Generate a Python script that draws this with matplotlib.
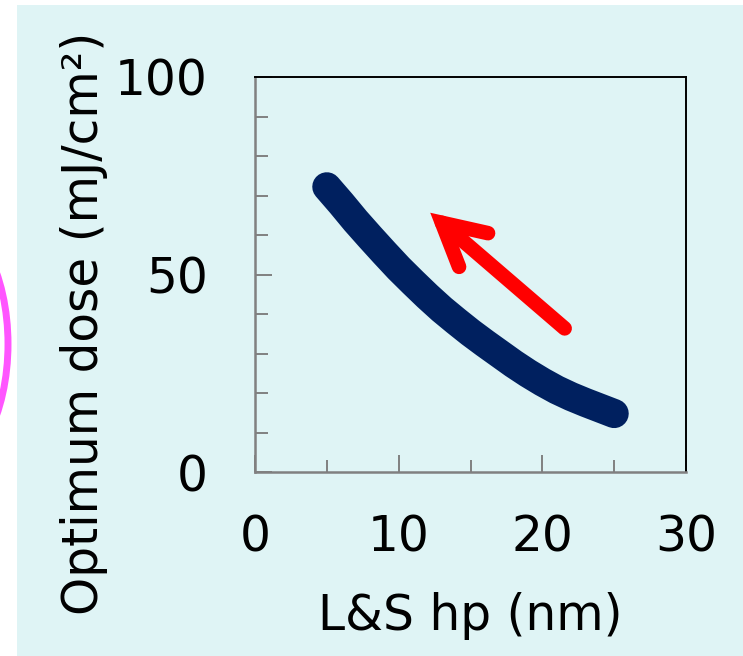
import numpy as np
import matplotlib
matplotlib.use('Agg')
from matplotlib import pyplot as plt
from matplotlib.patches import Rectangle, Ellipse, FancyArrowPatch
from matplotlib.ticker import MultipleLocator
plt.rcParams['font.family'] = ['DejaVu Sans']

# values
hp = [5, 6, 7, 8, 9, 10, 11, 12, 13, 14, 15,
      16, 17, 18, 19, 20, 21, 22, 23, 24, 25]                  # L&S hp (nm)
dose = [72.2, 68, 63.6, 59.5, 55.5, 51.6, 48, 44.5, 41.2, 38.2, 35.3,
        32.6, 30, 27.4, 25, 22.8, 20.8, 19.1, 17.6, 16.2, 14.8]  # optimum dose (mJ/cm2)
xticks = [0, 10, 20, 30]
yticks = [0, 50, 100]

W, H = 743, 656
fig = plt.figure(figsize=(W/100., H/100.), dpi=100)
fig.patch.set_facecolor('white')

# pale cyan panel and the magenta bit sticking in from the left
fig.patches.append(Rectangle((17./W, 0), 1 - 17./W, 1 - 5./H, transform=fig.transFigure,
                             fc='#dff4f5', ec='none', zorder=-2))
fig.patches.append(Ellipse((-62./W, 1 - 344./H), 140./W, 260./H, transform=fig.transFigure,
                           fc='white', ec='#ff55ff', lw=5, zorder=-1))

ax = fig.add_axes([255./W, 1 - 472./H, 431./W, 395./H])
ax.set_facecolor('none')
ax.plot(hp, dose, color='#00205f', lw=21, solid_capstyle='round', solid_joinstyle='round')

arr = FancyArrowPatch((21.7, 35.9), (12.05, 66.1), arrowstyle='->,head_length=0.30,head_width=0.16',
                      mutation_scale=100, color='#ff0000', lw=10.5, capstyle='round', joinstyle='miter')
ax.add_patch(arr)

ax.set_xlim(0, 30)
ax.set_ylim(0, 100)
ax.set_xticks(xticks)
ax.set_yticks(yticks)
ax.xaxis.set_minor_locator(MultipleLocator(5))
ax.yaxis.set_minor_locator(MultipleLocator(10))
ax.tick_params(which='both', direction='in', color='#808080', width=1.4, labelsize=35, labelcolor='black')
ax.tick_params(which='major', length=12)
ax.tick_params(which='minor', length=9)
ax.tick_params(axis='y', pad=34)
ax.tick_params(axis='x', pad=30)
for s in ['left', 'bottom']:
    ax.spines[s].set_color('#808080')
    ax.spines[s].set_linewidth(1.8)
for s in ['top', 'right']:
    ax.spines[s].set_color('black')
    ax.spines[s].set_linewidth(1.4)

ax.set_xlabel('L&S hp (nm)', fontsize=35, labelpad=22)
fig.text(84./W, 1 - 323./H, 'Optimum dose (mJ/cm²)', fontsize=35, rotation=90,
         ha='center', va='center')

fig.savefig('out.png', dpi=100)
